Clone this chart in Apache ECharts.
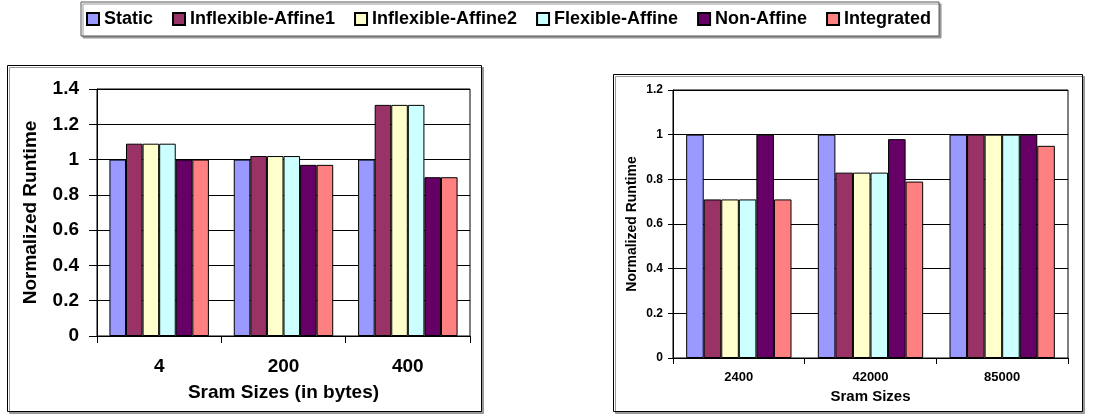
<!DOCTYPE html>
<html>
<head>
<meta charset="utf-8">
<script src="https://cdn.jsdelivr.net/npm/echarts@6/dist/echarts.min.js"></script>
<style>
  html, body { margin: 0; padding: 0; background: #fff; }
  #chart { width: 1093px; height: 416px; }
</style>
</head>
<body>
<div id="chart"></div>
<script>
// Series names and bar colours
const seriesNames = ['Static', 'Inflexible-Affine1', 'Inflexible-Affine2', 'Flexible-Affine', 'Non-Affine', 'Integrated'];
const seriesColors = ['#9999FF', '#993366', '#FFFFCC', '#CCFFFF', '#660066', '#FF8080'];

// Left chart: small SRAM sizes (bytes)
const smallSizes = ['4', '200', '400'];
const smallStatic = [1, 1, 1];
const smallAffine1 = [1.09, 1.02, 1.31];
const smallAffine2 = [1.09, 1.02, 1.31];
const smallFlexible = [1.09, 1.02, 1.31];
const smallNonAffine = [1, 0.97, 0.9];
const smallIntegrated = [1, 0.97, 0.9];

// Right chart: large SRAM sizes
const largeSizes = ['2400', '42000', '85000'];
const largeStatic = [1, 1, 1];
const largeAffine1 = [0.71, 0.83, 1];
const largeAffine2 = [0.71, 0.83, 1];
const largeFlexible = [0.71, 0.83, 1];
const largeNonAffine = [1, 0.98, 1];
const largeIntegrated = [0.71, 0.79, 0.95];

const smallData = [smallStatic, smallAffine1, smallAffine2, smallFlexible, smallNonAffine, smallIntegrated];
const largeData = [largeStatic, largeAffine1, largeAffine2, largeFlexible, largeNonAffine, largeIntegrated];

const FONT = '"Liberation Sans", Arial, sans-serif';

function barSeries(data, axisIndex) {
  return data.map((values, i) => ({
    name: seriesNames[i],
    type: 'bar',
    xAxisIndex: axisIndex,
    yAxisIndex: axisIndex,
    data: values,
    barGap: '0%',
    barCategoryGap: '20%',
    itemStyle: { color: seriesColors[i], borderColor: '#000', borderWidth: 1 },
    emphasis: { disabled: true }
  }));
}

function valueAxis(gridIndex, max, fontSize, margin, tickLen, nameSize, nameGap) {
  return {
    type: 'value', gridIndex: gridIndex, min: 0, max: max, interval: 0.2,
    name: 'Normalized Runtime', nameLocation: 'middle', nameGap: nameGap, nameRotate: 90,
    nameTextStyle: { fontFamily: FONT, fontWeight: 'bold', fontSize: nameSize, color: '#000' },
    axisLine: { show: true, lineStyle: { color: '#000', width: 1 } },
    axisTick: { show: true, length: tickLen, lineStyle: { color: '#000' } },
    axisLabel: { fontFamily: FONT, fontWeight: 'bold', fontSize: fontSize, color: '#000', margin: margin },
    splitLine: { show: true, lineStyle: { color: '#000', width: 1 } }
  };
}

function categoryAxis(gridIndex, cats, name, fontSize, margin, tickLen, nameSize, nameGap) {
  return {
    type: 'category', gridIndex: gridIndex, data: cats,
    name: name, nameLocation: 'middle', nameGap: nameGap,
    nameTextStyle: { fontFamily: FONT, fontWeight: 'bold', fontSize: nameSize, color: '#000' },
    axisLine: { show: true, lineStyle: { color: '#000', width: 1 } },
    axisTick: { show: true, alignWithLabel: false, length: tickLen, lineStyle: { color: '#000' } },
    axisLabel: { fontFamily: FONT, fontWeight: 'bold', fontSize: fontSize, color: '#000', margin: margin },
    splitLine: { show: false }
  };
}

const chart = echarts.init(document.getElementById('chart'), null, { renderer: 'canvas' });

chart.setOption({
  animation: false,
  backgroundColor: '#fff',
  graphic: [
    // frames around each chart
    {
      type: 'rect', left: 7, top: 65, z: -10,
      shape: { width: 474, height: 346 },
      style: { fill: '#fff', stroke: '#000', lineWidth: 1, shadowColor: '#999', shadowOffsetX: 2, shadowOffsetY: 2 }
    },
    {
      type: 'rect', left: 613, top: 74, z: -10,
      shape: { width: 469, height: 337 },
      style: { fill: '#fff', stroke: '#000', lineWidth: 1, shadowColor: '#999', shadowOffsetX: 2, shadowOffsetY: 2 }
    }
  ],
  legend: {
    data: seriesNames,
    left: 81, top: 2,
    padding: [8, 8, 8, 5],
    itemGap: 19,
    itemWidth: 12, itemHeight: 12,
    icon: 'rect',
    selectedMode: false,
    backgroundColor: '#fff',
    borderColor: '#555', borderWidth: 1,
    shadowColor: '#999', shadowOffsetX: 2, shadowOffsetY: 2,
    textStyle: { fontFamily: FONT, fontWeight: 'bold', fontSize: 18, color: '#000' }
  },
  grid: [
    { left: 97, top: 89, width: 373, height: 247, show: true, borderColor: '#000', borderWidth: 1, backgroundColor: '#fff' },
    { left: 673, top: 90, width: 395, height: 268, show: true, borderColor: '#000', borderWidth: 1, backgroundColor: '#fff' }
  ],
  xAxis: [
    categoryAxis(0, smallSizes, 'Sram Sizes (in bytes)', 19, 21, 7, 19, 47),
    categoryAxis(1, largeSizes, 'Sram Sizes', 13, 13, 6, 15, 26)
  ],
  yAxis: [
    valueAxis(0, 1.4, 19, 18, 8, 19, 57),
    valueAxis(1, 1.2, 12, 10, 5, 14, 34)
  ],
  series: barSeries(smallData, 0).concat(barSeries(largeData, 1))
});
</script>
</body>
</html>
